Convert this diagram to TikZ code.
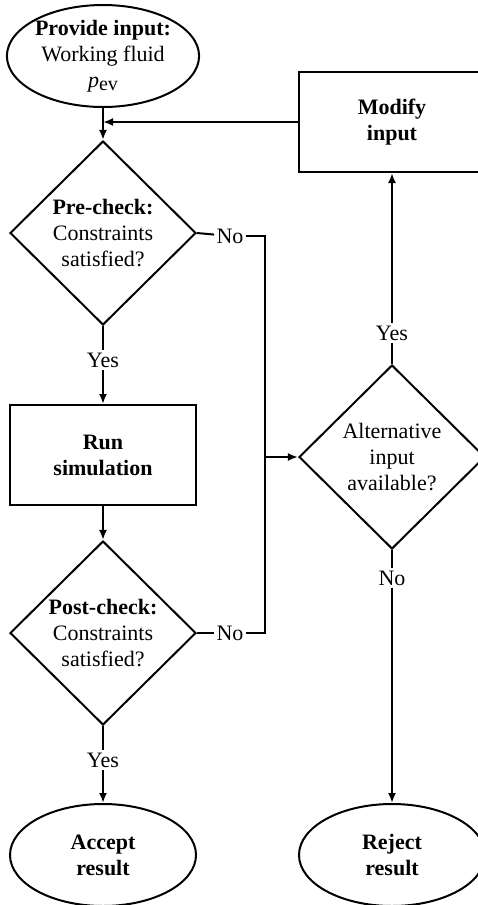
\documentclass[tikz,border=0pt]{standalone}
\usepackage{fontspec}
\setmainfont{Liberation Serif}
\usepackage{tikz}
\usetikzlibrary{shapes.geometric, arrows.meta}
\tikzstyle{terminal} = [draw, thick, fill=white, ellipse, inner sep=0, minimum width=93pt, minimum height=51pt, align=center]
\tikzstyle{process} = [draw, thick, fill=white, rectangle, inner sep=0, minimum width=93pt, minimum height=50pt, align=center]
\tikzstyle{decision} = [draw, thick, fill=white, diamond, inner sep=0, minimum width=93pt, minimum height=92pt, align=center]
\tikzstyle{answer} = [inner sep=1pt]

\begin{document}
\begin{tikzpicture}[x=0.5pt, y=0.5pt, thick/.style={line width=1pt}, >={Latex[length=5pt, width=4pt]}, font=\fontsize{11}{13}\selectfont]
      \useasboundingbox (0, 0) rectangle (477, -905);
      \node[terminal] (provide) at (103, -56) {\textbf{Provide input:}\\Working fluid\\\textit{p}{\fontsize{10}{10}\selectfont\raisebox{-0.4ex}{ev}}};
      \node[decision] (precheck) at (103, -233) {\textbf{Pre-check:}\\Constraints\\satisfied?};
      \node[answer] (yespre) at (103, -360) {Yes};
      \node[process] (runsim) at (103, -455) {\textbf{Run}\\\textbf{simulation}};
      \node[decision] (postcheck) at (103, -633) {\textbf{Post-check:}\\Constraints\\satisfied?};
      \node[answer] (yespost) at (103, -760) {Yes};
      \node[terminal] (accept) at (103, -855) {\textbf{Accept}\\\textbf{result}};

      \node[process] (modify) at (392, -122) {\textbf{Modify}\\\textbf{input}};
      \node[answer] (yesalt) at (392, -333) {Yes};
      \node[decision] (altinput) at (392, -457) {Alternative\\input\\available?};
      \node[answer] (noalt) at (392, -578) {No};
      \node[terminal] (reject) at (392, -855) {\textbf{Reject}\\\textbf{result}};

      \node[answer] (nopre) at (230, -236) {No};
      \node[answer] (nopost) at (230, -633) {No};
      \coordinate (merge) at (103, -122);
      \coordinate (join) at (265, -457);

      \draw[->, thick] (provide) -- (precheck);
      \draw[thick] (precheck) -- (yespre);
      \draw[->, thick] (yespre) -- (runsim);
      \draw[->, thick] (runsim) -- (postcheck);
      \draw[thick] (postcheck) -- (yespost);
      \draw[->, thick] (yespost) -- (accept);

      \draw[thick] (precheck.east) -- (nopre);
      \draw[thick] (postcheck.east) -- (nopost);
      \draw[thick] (nopre) -| (join);
      \draw[thick] (nopost) -| (join);
      \draw[->, thick] (join) -- (altinput);

      \draw[thick] (altinput) -- (yesalt);
      \draw[->, thick] (yesalt) -- (modify);
      \draw[->, thick] (modify) -- (merge);
      \draw[thick] (altinput) -- (noalt);
      \draw[->, thick] (noalt) -- (reject);
    \end{tikzpicture}
\end{document}
